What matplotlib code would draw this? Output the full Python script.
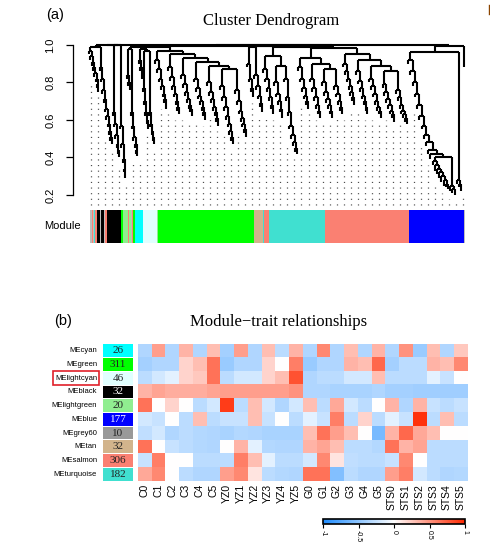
import matplotlib
matplotlib.use("Agg")
import matplotlib.pyplot as plt
from matplotlib.collections import LineCollection
from matplotlib.colors import LinearSegmentedColormap
from matplotlib.patches import Rectangle
from matplotlib.lines import Line2D
import matplotlib.transforms as mtransforms
import numpy as np

plt.rcParams['font.family'] = ['Liberation Sans', 'DejaVu Sans']
SERIF = ['Liberation Serif', 'DejaVu Serif']

# ---- module colour bar under the dendrogram (left to right, gene index units)
bar_colors = ['#BEBEBE', '#FA8072', '#BEBEBE', '#40E0D0', '#FA8072', '#000000', '#BEBEBE',
              '#000000', '#BEBEBE', '#FA8072', '#BEBEBE', '#000000', '#00FF00', '#90EE90',
              '#FA8072', '#90EE90', '#BEBEBE', '#FA8072', '#00FF00', '#00FFFF', '#E0FFFF',
              '#90EE90', '#00FF00', '#D2B48C', '#40E0D0', '#FA8072', '#40E0D0', '#FA8072',
              '#0000FF', '#BEBEBE']
bar_widths = [4, 3, 3, 4, 3, 9, 3, 8, 3, 4, 2, 36, 5, 13, 3, 5, 3, 4, 4, 21, 37,
              3, 255, 24, 4, 12, 149, 223, 146, 5]

# ---- dendrogram: each cluster = span on the gene axis, height where it joins,
# and its sub-branches as (join height, leaf heights)
branch_a = [(0.98, [0.95, 0.92, 0.89, 0.86, 0.83, 0.80, 0.77, 0.75]),
            (0.96, [0.86, 0.80, 0.74, 0.69, 0.64, 0.60, 0.56, 0.52, 0.49, 0.47])]
branch_b = [(0.99, [0.62, 0.56, 0.50, 0.45, 0.42, 0.40]),
            (0.985, [0.55, 0.45, 0.37, 0.32, 0.29])]
branch_c = [(0.97, [0.82, 0.78, 0.76]),
            (0.95, [0.62, 0.55, 0.49, 0.45, 0.42, 0.41])]
branch_d = [(0.97, [0.90, 0.86, 0.82]),
            (0.96, [0.75, 0.68, 0.62, 0.58, 0.55]),
            (0.93, [0.62, 0.56, 0.52, 0.49, 0.47])]
branch_e = [(0.96, [0.90, 0.85, 0.80, 0.76, 0.72, 0.69, 0.66]),
            (0.94, [0.86, 0.81, 0.76, 0.72, 0.68, 0.65, 0.63]),
            (0.92, [0.82, 0.77, 0.73, 0.69, 0.66, 0.64, 0.62]),
            (0.90, [0.80, 0.75, 0.71, 0.68, 0.65, 0.62, 0.60]),
            (0.88, [0.78, 0.73, 0.69, 0.65, 0.62, 0.59, 0.57]),
            (0.86, [0.76, 0.70, 0.65, 0.60, 0.56, 0.52, 0.49, 0.47]),
            (0.84, [0.74, 0.68, 0.63, 0.59, 0.56, 0.53, 0.51])]
branch_f = [(0.98, [0.88, 0.80, 0.75, 0.72]),
            (0.96, [0.82, 0.76, 0.71, 0.67, 0.64])]
branch_g = [(0.93, [0.85, 0.80, 0.75, 0.70, 0.66, 0.63]),
            (0.88, [0.78, 0.72, 0.68, 0.64, 0.61]),
            (0.86, [0.80, 0.70, 0.62, 0.55, 0.50, 0.46, 0.43, 0.42])]
branch_h = [(0.92, [0.86, 0.80, 0.75, 0.71, 0.68, 0.66]),
            (0.89, [0.80, 0.75, 0.70, 0.66, 0.63, 0.61]),
            (0.86, [0.78, 0.73, 0.69, 0.66, 0.63, 0.61]),
            (0.83, [0.76, 0.72, 0.68, 0.65, 0.63])]
branch_i = [(0.94, [0.88, 0.84, 0.80, 0.76, 0.73, 0.70, 0.68]),
            (0.91, [0.84, 0.79, 0.75, 0.71, 0.68, 0.65, 0.63]),
            (0.88, [0.80, 0.76, 0.72, 0.68, 0.65, 0.63, 0.61]),
            (0.85, [0.77, 0.73, 0.69, 0.66, 0.63, 0.61, 0.59]),
            (0.82, [0.74, 0.70, 0.66, 0.63, 0.61, 0.59, 0.58])]
branch_j = [(0.95, [0.90, 0.84, 0.78, 0.72, 0.66, 0.60, 0.55, 0.50, 0.46, 0.42, 0.39,
                    0.36, 0.33, 0.31, 0.29, 0.27, 0.25, 0.24, 0.23, 0.22, 0.21, 0.20]),
            (0.33, [0.26, 0.24, 0.22])]
branch_k = [(0.95, [0.88])]

dendro_branches = [branch_a, branch_b, branch_c, branch_d, branch_e, branch_f,
                   branch_g, branch_h, branch_i, branch_j, branch_k]
dendro_spans = [(0, 60), (64, 96), (101, 128), (133, 173), (176, 418), (420, 460),
                (463, 553), (556, 673), (675, 846), (849, 990), (996, 996)]
dendro_tops = [1.0, 1.0, 0.985, 0.985, 0.975, 0.985, 0.985, 0.98, 0.98, 0.99, 0.96]

# ---- module-trait heatmap
module_names = ['MEcyan', 'MEgreen', 'MElightcyan', 'MEblack', 'MElightgreen', 'MEblue',
                'MEgrey60', 'MEtan', 'MEsalmon', 'MEturquoise']
module_colors = ['#00FFFF', '#00FF00', '#E0FFFF', '#000000', '#90EE90', '#0000FF',
                 '#999999', '#D2B48C', '#FA8072', '#40E0D0']
module_sizes = [26, 311, 46, 32, 20, 177, 10, 32, 306, 182]
trait_names = ['C0', 'C1', 'C2', 'C3', 'C4', 'C5', 'YZ0', 'YZ1', 'YZ2', 'YZ3', 'YZ4', 'YZ5',
               'G0', 'G1', 'G2', 'G3', 'G4', 'G5', 'STS0', 'STS1', 'STS2', 'STS3', 'STS4', 'STS5']
cor_values = np.array([
    [-0.35, 0.45, -0.35, 0.35, -0.35, 0.30, -0.40, 0.45, -0.35, 0.30, -0.30, 0.35,
     -0.35, 0.55, -0.35, 0.30, -0.35, 0.35, -0.35, 0.50, -0.45, 0.30, -0.35, 0.25],
    [-0.40, -0.35, -0.35, 0.20, 0.30, 0.65, -0.45, -0.35, -0.35, 0.20, 0.00, 0.60,
     -0.45, -0.35, -0.35, 0.35, 0.30, 0.70, -0.40, -0.30, -0.30, 0.35, 0.30, 0.55],
    [-0.30, -0.20, -0.12, 0.20, 0.25, 0.65, -0.30, -0.20, -0.20, 0.20, 0.30, 0.80,
     -0.35, -0.30, -0.30, -0.20, -0.20, 0.30, -0.30, -0.30, -0.30, -0.12, -0.25, 0.00],
    [0.35, 0.42, 0.38, 0.38, 0.38, 0.42, 0.45, 0.45, 0.45, 0.45, 0.45, 0.50,
     -0.35, -0.35, -0.38, -0.38, -0.38, -0.35, -0.40, -0.40, -0.42, -0.42, -0.42, -0.42],
    [0.65, 0.00, 0.20, 0.00, -0.30, -0.20, 0.90, -0.30, 0.30, -0.20, -0.35, -0.20,
     0.30, -0.30, 0.40, -0.20, -0.30, 0.00, 0.35, -0.35, 0.35, -0.25, -0.30, -0.25],
    [-0.20, -0.25, 0.00, -0.30, 0.30, -0.30, -0.25, -0.25, 0.30, -0.25, 0.00, -0.30,
     -0.12, -0.25, 0.60, -0.30, 0.20, -0.30, -0.12, -0.25, 0.95, -0.30, 0.30, -0.30],
    [-0.28, -0.20, -0.35, -0.30, -0.33, -0.35, -0.38, -0.33, -0.35, -0.38, -0.38, -0.38,
     0.30, 0.65, 0.45, 0.30, 0.00, -0.60, 0.35, 0.70, 0.40, 0.30, 0.00, 0.00],
    [0.65, 0.00, -0.25, -0.30, -0.33, -0.35, 0.00, 0.35, -0.12, -0.33, -0.35, -0.35,
     0.35, 0.42, 0.30, -0.30, -0.30, -0.33, 0.65, 0.35, 0.42, -0.30, -0.30, -0.30],
    [-0.25, 0.60, 0.00, 0.00, -0.30, -0.30, -0.30, 0.60, 0.30, -0.12, -0.30, -0.30,
     -0.20, 0.55, 0.12, -0.28, -0.30, -0.30, -0.25, 0.55, 0.00, -0.30, -0.30, -0.30],
    [0.40, 0.55, 0.00, -0.30, -0.35, -0.35, 0.45, 0.55, 0.12, -0.30, -0.33, -0.35,
     0.65, 0.65, -0.55, -0.30, -0.35, -0.35, 0.45, 0.60, -0.20, -0.30, -0.35, -0.33],
])
highlight_row = 2
cbar_ticks = [-1, -0.5, 0, 0.5, 1]
cbar_labels = ['-1', '-0.5', '0', '0.5', '1']


def join_neighbours(nodes, gap, cap=None):
    """greedy join of neighbouring nodes [x, h]; returns root and line segments"""
    nodes = [list(n) for n in nodes]
    segs = []
    while len(nodes) > 1:
        k = min(range(len(nodes) - 1), key=lambda i: max(nodes[i][1], nodes[i + 1][1]))
        a, b = nodes[k], nodes[k + 1]
        h = max(a[1], b[1]) + gap
        if cap is not None:
            h = min(h, cap)
        segs += [[(a[0], a[1]), (a[0], h)], [(b[0], b[1]), (b[0], h)], [(a[0], h), (b[0], h)]]
        nodes[k:k + 2] = [[(a[0] + b[0]) / 2.0, h]]
    return nodes[0], segs


def stalk(node, top, segs):
    if top > node[1]:
        segs.append([(node[0], node[1]), (node[0], top)])
        return [node[0], top]
    return node


fig = plt.figure(figsize=(4.9, 5.52), dpi=100)

# ================= (a) dendrogram
ax_d = fig.add_axes([0.1778, 0.6264, 0.779, 0.2955])
segments = []
leaf_x, leaf_h = [], []
cluster_roots = []
for branches, (x0, x1), top in zip(dendro_branches, dendro_spans, dendro_tops):
    n = sum(len(t) for _, t in branches)
    xs = np.linspace(x0, x1, n)
    pos = 0
    sub_roots = []
    for sub_top, tips in branches:
        leaves = [[xs[pos + i], h] for i, h in enumerate(tips)]
        leaf_x += [l[0] for l in leaves]
        leaf_h += list(tips)
        pos += len(tips)
        root, s = join_neighbours(leaves, 0.02)
        segments += s
        sub_roots.append(stalk(root, sub_top, segments))
    root, s = join_neighbours(sub_roots, 0.01)
    segments += s
    cluster_roots.append(stalk(root, top, segments))
root, s = join_neighbours(cluster_roots, 0.003, cap=1.0)
segments += s

ax_d.add_collection(LineCollection(segments, colors='black', linewidths=1.5,
                                   capstyle='butt'))

# hanging guide dots
leaf_x = np.array(leaf_x)
leaf_h = np.array(leaf_h)
for gx in np.arange(4, 1000, 18.7):
    near = np.abs(leaf_x - gx) < 12
    h0 = leaf_h[near].min() if near.any() else leaf_h[np.argmin(np.abs(leaf_x - gx))]
    ax_d.plot([gx, gx], [0.145, h0 - 0.03], color='0.3', lw=0.9,
              linestyle=(0, (0.9, 3.6)))

ax_d.set_xlim(-5, 1010)
ax_d.set_ylim(0.14, 1.01)
for sp in ['top', 'right', 'bottom']:
    ax_d.spines[sp].set_visible(False)
ax_d.spines['left'].set_position(('outward', 10))
ax_d.spines['left'].set_bounds(0.2, 1.0)
ax_d.spines['left'].set_linewidth(0.9)
ax_d.set_xticks([])
ax_d.set_yticks([0.2, 0.4, 0.6, 0.8, 1.0])
ax_d.set_yticklabels(['0.2', '0.4', '0.6', '0.8', '1.0'], rotation=90, va='center')
ax_d.tick_params(axis='y', length=5, width=0.9, pad=8, labelsize=8)

fig.text(0.553, 0.9625, 'Cluster Dendrogram', family=SERIF, fontsize=12,
         ha='center', va='center')
fig.text(0.1122, 0.9728, '(a)', fontsize=10.5, ha='center', va='center')
# sliver of the neighbouring panel's label, cut by the right edge
fig.add_artist(Line2D([0.998, 0.998], [1 - 5 / 552, 1 - 14 / 552], transform=fig.transFigure,
                      color='#8B4500', lw=1.0))

# module colour bar
ax_m = fig.add_axes([0.1778, 0.5598, 0.779, 0.0598])
lefts = 3 + np.concatenate([[0], np.cumsum(bar_widths)[:-1]])
ax_m.bar(lefts, 1, width=bar_widths, color=bar_colors, align='edge', linewidth=0)
ax_m.set_xlim(-5, 1010)
ax_m.set_ylim(0, 1)
ax_m.axis('off')
fig.text(80.7 / 490, 1 - 226 / 552, 'Module', fontsize=8, ha='right', va='center')

# ================= (b) module-trait heatmap
cmap = LinearSegmentedColormap.from_list('bwr_wgcna', ['#1E8CFF', '#FFFFFF', '#FF2800'])

ax_h = fig.add_axes([0.2810, 0.1286, 0.6731, 0.2482])
im = ax_h.imshow(cor_values, cmap=cmap, vmin=-1, vmax=1, aspect='auto',
                 interpolation='nearest')
ax_h.set_xticks(range(len(trait_names)))
ax_h.set_xticklabels(trait_names, rotation=90, fontsize=7.5)
ax_h.set_yticks([])
ax_h.tick_params(axis='x', length=0, pad=2)
for sp in ax_h.spines.values():
    sp.set_visible(False)

# module swatches with gene counts
ax_s = fig.add_axes([0.2102, 0.1286, 0.0612, 0.2482])
rows = np.arange(len(module_names))
ax_s.barh(rows, 1, height=0.94, left=0, color=module_colors, linewidth=0)
for r, n, c in zip(rows, module_sizes, module_colors):
    tc = 'white' if c in ('#000000', '#0000FF') else '#222222'
    ax_s.text(0.5, r, str(n), ha='center', va='center', family=SERIF, fontsize=8, color=tc)
ax_s.set_xlim(0, 1)
ax_s.set_ylim(len(module_names) - 0.5, -0.5)
ax_s.axis('off')
lab_tr = mtransforms.blended_transform_factory(ax_s.transAxes, ax_s.transData)
for r, name in zip(rows, module_names):
    ax_s.text(-0.2, r, name, transform=lab_tr, ha='right', va='center', fontsize=5.5)
ax_s.add_patch(Rectangle((-1.68, highlight_row - 0.52), 1.56, 1.04, transform=lab_tr,
                         fill=False, edgecolor='#E0202A', lw=1.2, clip_on=False))

fig.text(0.569, 0.4167, 'Module\u2212trait relationships', family=SERIF, fontsize=12,
         ha='center', va='center')
fig.text(0.1286, 0.4185, '(b)', fontsize=10.5, ha='center', va='center')

# colour key
ax_c = fig.add_axes([0.6592, 0.0507, 0.2898, 0.0085])
cb = fig.colorbar(im, cax=ax_c, orientation='horizontal')
cb.set_ticks(cbar_ticks)
cb.set_ticklabels(cbar_labels)
cb.outline.set_linewidth(1.2)
ax_c.tick_params(axis='x', length=3, width=0.8, labelsize=5, pad=1.5, labelrotation=270)

fig.savefig('out.png', dpi=100)
